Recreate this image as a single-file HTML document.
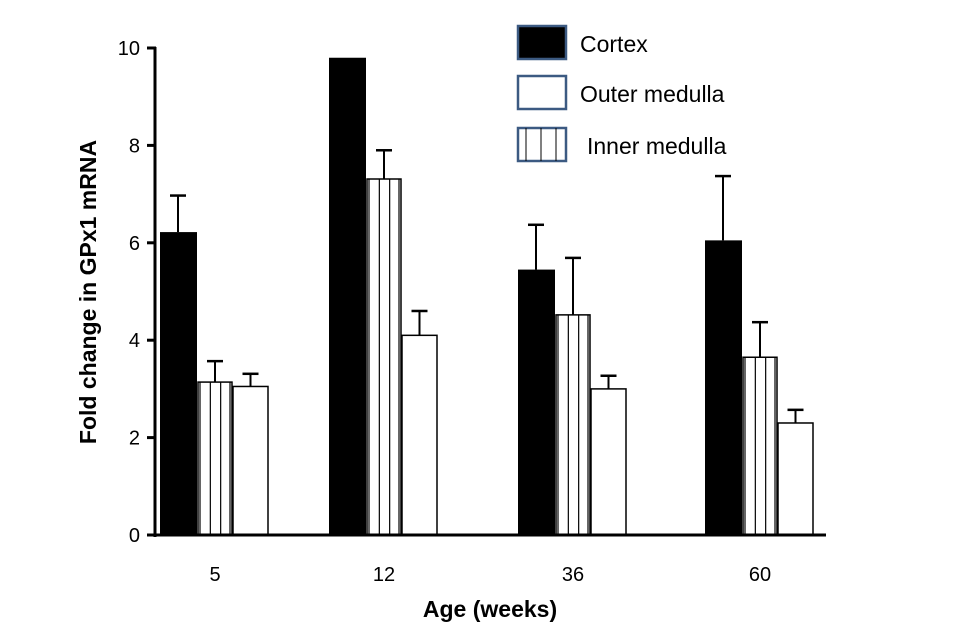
<!DOCTYPE html>
<html><head><meta charset="utf-8"><style>
html,body{margin:0;padding:0;background:#fff}
svg{display:block;font-family:"Liberation Sans",Arial,sans-serif}
</style></head><body>
<svg id="chart" width="959" height="630"></svg>
<script>
const categories=["5","12","36","60"];
const cortex=[6.22,9.8,5.45,6.05];
const cortexErr=[0.75,0,0.92,1.32];
const stripedVals=[3.14,7.31,4.52,3.65];
const stripedErr=[0.43,0.59,1.17,0.72];
const whiteVals=[3.05,4.1,3.0,2.3];
const whiteErr=[0.26,0.5,0.27,0.27];
const yTicks=[0,2,4,6,8,10];

const NS="http://www.w3.org/2000/svg";
const svg=document.getElementById('chart');
function el(t,a,p){const e=document.createElementNS(NS,t);for(const k in a)e.setAttribute(k,a[k]);(p||svg).appendChild(e);return e;}
const y0=535,y1=48;
function y(v){return y0-(v/10)*(y0-y1);}
const groupLeft=[160,329,518,705];
const bw=36;

yTicks.forEach(t=>{
  const l=el('line',{x1:147,x2:156,y1:y(t),y2:y(t),stroke:'#000','stroke-width':3});
  
  
  const tx=el('text',{x:140,y:y(t)+7,'text-anchor':'end','font-size':20});
  tx.textContent=t;
  
  
});

function errBar(cx,v,e){
  if(e<=0)return;
  const g=el('g',{});
  
  
  el('line',{x1:cx,x2:cx,y1:y(v),y2:y(v+e),stroke:'#000','stroke-width':2},g);
  el('line',{x1:cx-8,x2:cx+8,y1:y(v+e),y2:y(v+e),stroke:'#000','stroke-width':2.5},g);
}
categories.forEach((c,i)=>{
  const gx=groupLeft[i];
  const b1=el('rect',{x:gx,y:y(cortex[i]),width:bw+1,height:y0-y(cortex[i]),fill:'#000'});
  
  
  errBar(gx+bw/2,cortex[i],cortexErr[i]);
  const sx=gx+bw+2, sw=bw-2;
  const g2=el('g',{});
  
  
  const st=y(stripedVals[i]);
  el('rect',{x:sx,y:st,width:sw,height:y0-st,fill:'#fff',stroke:'#000','stroke-width':1.5},g2);
  [2,sw/3+1,2*sw/3,sw-2].forEach(o=>el('line',{x1:sx+o,x2:sx+o,y1:st,y2:y0,stroke:'#000','stroke-width':1.2},g2));
  errBar(sx+sw/2,stripedVals[i],stripedErr[i]);
  const wx=sx+sw+1;
  const wt=y(whiteVals[i]);
  const b3=el('rect',{x:wx,y:wt,width:bw-1,height:y0-wt,fill:'#fff',stroke:'#000','stroke-width':1.5});
  
  
  errBar(wx+(bw-1)/2,whiteVals[i],whiteErr[i]);
  const lb=el('text',{x:gx+55,y:581,'text-anchor':'middle','font-size':20});
  lb.textContent=c;
  
  
});
</script>
<script>
(function(){
const NS="http://www.w3.org/2000/svg";const svg=document.getElementById('chart');
function el(t,a){const e=document.createElementNS(NS,t);for(const k in a)e.setAttribute(k,a[k]);svg.appendChild(e);return e;}
const ya=el('line',{x1:155,x2:155,y1:47,y2:537,stroke:'#000','stroke-width':3});


const xa=el('line',{x1:147,x2:826,y1:535,y2:535,stroke:'#000','stroke-width':3});


const yt=el('text',{x:0,y:0,transform:'translate(96,292) rotate(-90)','text-anchor':'middle','font-size':23,'font-weight':'bold'});
yt.textContent='Fold change in GPx1 mRNA';


const xt=el('text',{x:490,y:617,'text-anchor':'middle','font-size':23,'font-weight':'bold'});
xt.textContent='Age (weeks)';


const items=[['Cortex',26,'#000',false,580],['Outer medulla',76,'#fff',false,580],['Inner medulla',128,'#fff',true,587]];
items.forEach(([t,yy,f,s,tx])=>{
  const r=el('rect',{x:518,y:yy,width:48,height:33,fill:f,stroke:'#3c5a82','stroke-width':2.5});
  
  
  if(s){[526,541,556].forEach(x=>el('line',{x1:x,x2:x,y1:yy,y2:yy+33,stroke:'#000','stroke-width':1}));}
  const te=el('text',{x:tx,y:yy+26,'font-size':23});
  te.textContent=t;
  
  
});
})();
</script>
</body></html>
